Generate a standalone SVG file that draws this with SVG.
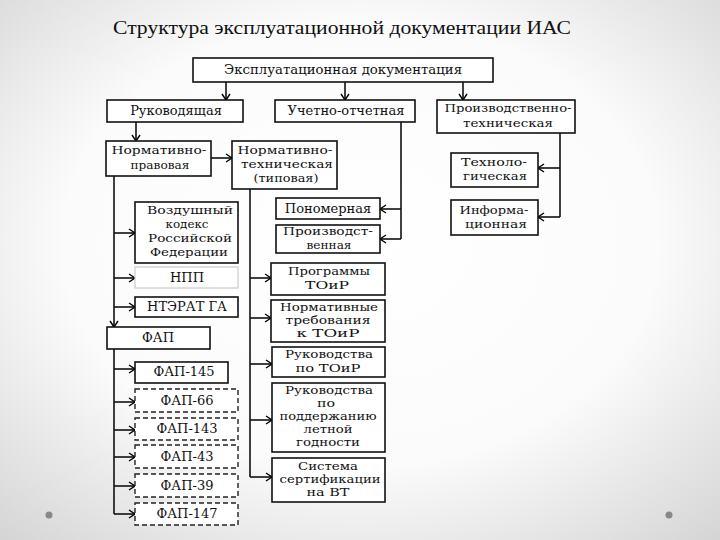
<svg xmlns="http://www.w3.org/2000/svg" width="720" height="540" viewBox="0 0 720 540">
<defs>
<radialGradient id="bg" cx="50%" cy="45%" r="75%">
<stop offset="0" stop-color="#ffffff"/>
<stop offset="0.55" stop-color="#fbfbfb"/>
<stop offset="1" stop-color="#d4d4d4"/>
</radialGradient>
<marker id="ah" markerWidth="10" markerHeight="10" refX="7" refY="5" orient="auto" markerUnits="userSpaceOnUse">
<polyline points="1,1 7,5 1,9" fill="none" stroke="#000" stroke-width="1.4"/>
</marker>
</defs>
<style>
.b{fill:#fff;stroke:#111;stroke-width:1.6}
.d{fill:#fff;stroke:#222;stroke-width:1.4;stroke-dasharray:5,3}
.f{fill:#fff;stroke:#ccc;stroke-width:1.2}
.t{font-family:'DejaVu Serif','Liberation Serif',serif;font-size:13px;fill:#111;text-anchor:middle;dominant-baseline:middle}
.m{font-size:11.5px}
.c{fill:none;stroke:#111;stroke-width:1.6}
.a{fill:none;stroke:#111;stroke-width:1.6;marker-end:url(#ah)}
</style>
<rect width="720" height="540" fill="url(#bg)"/>
<text x="342" y="34" font-family="'Liberation Serif','DejaVu Serif',serif" font-size="19" fill="#111" text-anchor="middle" textLength="458" lengthAdjust="spacingAndGlyphs">Структура эксплуатационной документации ИАС</text>
<circle cx="49" cy="515" r="3.5" fill="#888"/>
<circle cx="669" cy="515" r="3.5" fill="#888"/>

<g id="connectors">
<path class="a" d="M226,82 V100"/>
<path class="a" d="M345,82 V100"/>
<path class="a" d="M463,82 V100"/>
<path class="a" d="M136,122 V141"/>
<path class="a" d="M211,158 H232"/>
<path class="a" d="M114,176 V327"/>
<path class="a" d="M114,233 H135"/>
<path class="a" d="M114,278 H135"/>
<path class="a" d="M114,307 H135"/>
<path class="c" d="M114,349 V514"/>
<path class="a" d="M114,369 H135"/>
<path class="a" d="M114,402 H135"/>
<path class="a" d="M114,430 H135"/>
<path class="a" d="M114,457 H135"/>
<path class="a" d="M114,486 H135"/>
<path class="a" d="M114,514 H135"/>
<path class="c" d="M250,189 V477"/>
<path class="a" d="M250,278 H271"/>
<path class="a" d="M250,318 H271"/>
<path class="a" d="M250,364 H272"/>
<path class="a" d="M250,420 H272"/>
<path class="a" d="M250,477 H272"/>
<path class="c" d="M401,122 V239"/>
<path class="a" d="M401,209 H380"/>
<path class="a" d="M401,239 H380"/>
<path class="c" d="M560,133 V217"/>
<path class="a" d="M560,168 H538"/>
<path class="a" d="M560,217 H538"/>
</g>

<g id="n-top"><rect class="b" x="193" y="58" width="300" height="24"/><text class="t" x="343" y="70" textLength="238" lengthAdjust="spacingAndGlyphs">Эксплуатационная документация</text></g>
<g id="n-ruk"><rect class="b" x="107" y="100" width="136" height="22"/><text class="t" x="176" y="111">Руководящая</text></g>
<g id="n-uch"><rect class="b" x="275" y="100" width="140" height="22"/><text class="t" x="346" y="111">Учетно-отчетная</text></g>
<g id="n-prt"><rect class="b" x="437" y="100" width="138" height="33"/><text class="t m" x="508" y="109" textLength="127" lengthAdjust="spacingAndGlyphs">Производственно-</text><text class="t m" x="508" y="124" textLength="90" lengthAdjust="spacingAndGlyphs">техническая</text></g>
<g id="n-npr"><rect class="b" x="106" y="141" width="105" height="35"/><text class="t m" x="159" y="151" textLength="95" lengthAdjust="spacingAndGlyphs">Нормативно-</text><text class="t m" x="160" y="166" textLength="59" lengthAdjust="spacingAndGlyphs">правовая</text></g>
<g id="n-ntt"><rect class="b" x="232" y="141" width="105" height="48"/><text class="t m" x="285" y="151" textLength="95" lengthAdjust="spacingAndGlyphs">Нормативно-</text><text class="t m" x="287" y="165" textLength="92" lengthAdjust="spacingAndGlyphs">техническая</text><text class="t m" x="286" y="179" textLength="65" lengthAdjust="spacingAndGlyphs">(типовая)</text></g>
<g id="n-vk"><rect class="b" x="135" y="202" width="103" height="61"/><text class="t m" x="190" y="211" textLength="86" lengthAdjust="spacingAndGlyphs">Воздушный</text><text class="t m" x="187" y="225" textLength="43" lengthAdjust="spacingAndGlyphs">кодекс</text><text class="t m" x="190" y="239" textLength="84" lengthAdjust="spacingAndGlyphs">Российской</text><text class="t m" x="189" y="253" textLength="78" lengthAdjust="spacingAndGlyphs">Федерации</text></g>
<g id="n-npp"><rect class="f" x="135" y="267" width="103" height="21"/><text class="t" x="187" y="278">НПП</text></g>
<g id="n-nterat"><rect class="b" x="135" y="297" width="103" height="20"/><text class="t" x="187" y="307">НТЭРАТ ГА</text></g>
<g id="n-fap"><rect class="b" x="107" y="327" width="103" height="22"/><text class="t" x="158" y="338">ФАП</text></g>
<g id="n-fap145"><rect class="b" x="135" y="362" width="93" height="21"/><text class="t" x="184" y="372">ФАП-145</text></g>
<g id="n-fap66"><rect class="d" x="135" y="389" width="103" height="23"/><text class="t" x="187" y="401">ФАП-66</text></g>
<g id="n-fap143"><rect class="d" x="135" y="418" width="103" height="22"/><text class="t" x="187" y="429">ФАП-143</text></g>
<g id="n-fap43"><rect class="d" x="135" y="445" width="103" height="23"/><text class="t" x="187" y="457">ФАП-43</text></g>
<g id="n-fap39"><rect class="d" x="135" y="474" width="103" height="23"/><text class="t" x="187" y="486">ФАП-39</text></g>
<g id="n-fap147"><rect class="d" x="135" y="503" width="103" height="22"/><text class="t" x="187" y="514">ФАП-147</text></g>
<g id="n-ponom"><rect class="b" x="276" y="198" width="104" height="21"/><text class="t" x="328" y="209">Пономерная</text></g>
<g id="n-proizv"><rect class="b" x="276" y="225" width="104" height="28"/><text class="t m" x="328" y="232" textLength="90" lengthAdjust="spacingAndGlyphs">Производст-</text><text class="t m" x="329" y="246" textLength="45" lengthAdjust="spacingAndGlyphs">венная</text></g>
<g id="n-prog"><rect class="b" x="271" y="263" width="114" height="32"/><text class="t m" x="329" y="272" textLength="82" lengthAdjust="spacingAndGlyphs">Программы</text><text class="t m" x="327" y="286" textLength="44" lengthAdjust="spacingAndGlyphs">ТОиР</text></g>
<g id="n-normtr"><rect class="b" x="271" y="300" width="114" height="42"/><text class="t m" x="329" y="308" textLength="98" lengthAdjust="spacingAndGlyphs">Нормативные</text><text class="t m" x="328" y="321" textLength="85" lengthAdjust="spacingAndGlyphs">требования</text><text class="t m" x="328" y="334" textLength="63" lengthAdjust="spacingAndGlyphs">к ТОиР</text></g>
<g id="n-rukt"><rect class="b" x="272" y="347" width="113" height="30"/><text class="t m" x="329" y="355" textLength="88" lengthAdjust="spacingAndGlyphs">Руководства</text><text class="t m" x="328" y="369" textLength="65" lengthAdjust="spacingAndGlyphs">по ТОиР</text></g>
<g id="n-rukp"><rect class="b" x="272" y="383" width="113" height="69"/><text class="t m" x="329" y="391" textLength="88" lengthAdjust="spacingAndGlyphs">Руководства</text><text class="t m" x="326" y="404" textLength="18" lengthAdjust="spacingAndGlyphs">по</text><text class="t m" x="328" y="417" textLength="97" lengthAdjust="spacingAndGlyphs">поддержанию</text><text class="t m" x="328" y="430" textLength="49" lengthAdjust="spacingAndGlyphs">летной</text><text class="t m" x="328" y="443" textLength="64" lengthAdjust="spacingAndGlyphs">годности</text></g>
<g id="n-sist"><rect class="b" x="272" y="458" width="113" height="44"/><text class="t m" x="328" y="467" textLength="60" lengthAdjust="spacingAndGlyphs">Система</text><text class="t m" x="330" y="480" textLength="101" lengthAdjust="spacingAndGlyphs">сертификации</text><text class="t m" x="328" y="493" textLength="43" lengthAdjust="spacingAndGlyphs">на ВТ</text></g>
<g id="n-tech"><rect class="b" x="451" y="153" width="87" height="34"/><text class="t m" x="494" y="163" textLength="66" lengthAdjust="spacingAndGlyphs">Техноло-</text><text class="t m" x="495" y="177" textLength="64" lengthAdjust="spacingAndGlyphs">гическая</text></g>
<g id="n-inf"><rect class="b" x="451" y="200" width="87" height="35"/><text class="t m" x="494" y="211" textLength="69" lengthAdjust="spacingAndGlyphs">Информа-</text><text class="t m" x="496" y="225" textLength="62" lengthAdjust="spacingAndGlyphs">ционная</text></g>
</svg>
